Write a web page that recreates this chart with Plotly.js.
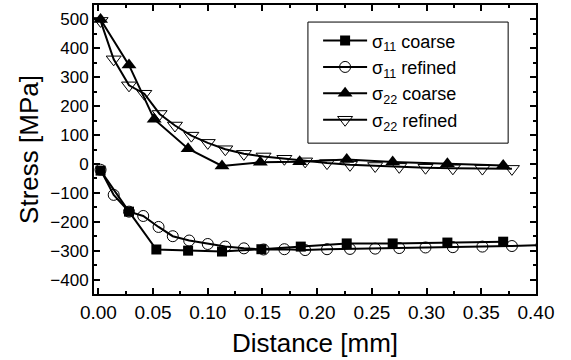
<!DOCTYPE html>
<html>
<head>
<meta charset="utf-8">
<script src="https://cdn.plot.ly/plotly-3.0.1.min.js"></script>
<style>html,body{margin:0;padding:0;background:#fff;}#chart{width:571px;height:360px;}</style>
</head>
<body>
<div id="chart"></div>
<script>
// Data
var s11CoarseX = [0.002, 0.028, 0.053, 0.082, 0.113, 0.149, 0.185, 0.227, 0.269, 0.319, 0.370];
var s11CoarseY = [-23, -165, -296, -300, -303, -295, -286, -275, -275, -272, -269];

var s11RefinedX = [0.002, 0.014, 0.028, 0.041, 0.055, 0.068, 0.083, 0.100, 0.116, 0.133, 0.151, 0.170, 0.189, 0.209, 0.230, 0.253, 0.275, 0.299, 0.324, 0.351, 0.378, 0.405];
var s11RefinedY = [-20, -107, -165, -180, -218, -250, -265, -277, -286, -292, -296, -295, -298, -295, -294, -293, -291, -289, -288, -286, -284, -281];

var s22CoarseX = [0.002, 0.028, 0.051, 0.082, 0.113, 0.148, 0.184, 0.227, 0.269, 0.319, 0.370];
var s22CoarseY = [500, 342, 155, 53, -7, 6, 8, 15, 7, 1, -5];

var s22RefinedX = [0.002, 0.014, 0.028, 0.042, 0.056, 0.070, 0.085, 0.100, 0.116, 0.133, 0.151, 0.170, 0.189, 0.209, 0.230, 0.253, 0.275, 0.299, 0.324, 0.351, 0.378];
var s22RefinedY = [495, 362, 272, 243, 173, 133, 98, 73, 51, 35, 26, 18, 9, 3, -3, -7, -10, -13, -15, -16, -17];

var seriesNames = ['\u03c3<sub>11</sub> coarse', '\u03c3<sub>11</sub> refined', '\u03c3<sub>22</sub> coarse', '\u03c3<sub>22</sub> refined'];

var lineStyle = {color: '#000', width: 2};
var traces = [
  {x: s11CoarseX, y: s11CoarseY, name: seriesNames[0], mode: 'lines+markers', line: lineStyle,
   marker: {symbol: 'square', size: 10, color: '#000'}},
  {x: s11RefinedX, y: s11RefinedY, name: seriesNames[1], mode: 'lines+markers', line: lineStyle,
   marker: {symbol: 'circle-open', size: 11, color: '#000', line: {width: 1, color: '#000'}}},
  {x: s22CoarseX, y: s22CoarseY, name: seriesNames[2], mode: 'lines+markers', line: lineStyle,
   marker: {symbol: 'triangle-up', size: 13, color: '#000'}},
  {x: s22RefinedX, y: s22RefinedY, name: seriesNames[3], mode: 'lines+markers', line: lineStyle,
   marker: {symbol: 'triangle-down-open', size: 13, color: '#000', line: {width: 1, color: '#000'}}}
];

var fontFam = 'Liberation Sans, Arial, sans-serif';
var layout = {
  width: 571, height: 360,
  margin: {l: 94, r: 35, t: 5, b: 66},
  paper_bgcolor: '#fff', plot_bgcolor: '#fff',
  font: {family: fontFam, color: '#000'},
  showlegend: true,
  legend: {x: 0.507, y: 0.94, xanchor: 'left', yanchor: 'top', bgcolor: 'rgba(0,0,0,0)',
           borderwidth: 0, itemwidth: 44, font: {size: 18, family: fontFam, color: '#000'}, tracegroupgap: 0},
  xaxis: {
    range: [-0.004, 0.40], dtick: 0.05, tick0: 0, tickformat: '.2f',
    showgrid: false, zeroline: false, showline: true, linecolor: '#000', linewidth: 2,
    mirror: 'ticks', ticks: 'inside', ticklen: 6, tickwidth: 2, tickcolor: '#000',
    minor: {ticks: 'inside', ticklen: 3, tickwidth: 2, dtick: 0.025, tick0: 0, tickcolor: '#000', showgrid: false},
    tickfont: {size: 19, family: fontFam},
    title: {text: 'Distance [mm]', font: {size: 26, family: fontFam}, standoff: 12}
  },
  yaxis: {
    range: [-450, 550], dtick: 100, tick0: 0,
    showgrid: false, zeroline: false, showline: true, linecolor: '#000', linewidth: 2,
    mirror: 'ticks', ticks: 'inside', ticklen: 6, tickwidth: 2, tickcolor: '#000',
    minor: {ticks: 'inside', ticklen: 3, tickwidth: 2, dtick: 50, tick0: 0, tickcolor: '#000', showgrid: false},
    tickfont: {size: 17, family: fontFam},
    title: {text: 'Stress [MPa]', font: {size: 26, family: fontFam}, standoff: 4}
  },
  shapes: [
    {type: 'rect', xref: 'paper', yref: 'paper', x0: 0.484, x1: 0.937, y0: 0.522, y1: 0.941,
     line: {color: '#000', width: 1}, fillcolor: 'rgba(0,0,0,0)'}
  ]
};

Plotly.newPlot('chart', traces, layout, {displayModeBar: false, staticPlot: true});
</script>
</body>
</html>
